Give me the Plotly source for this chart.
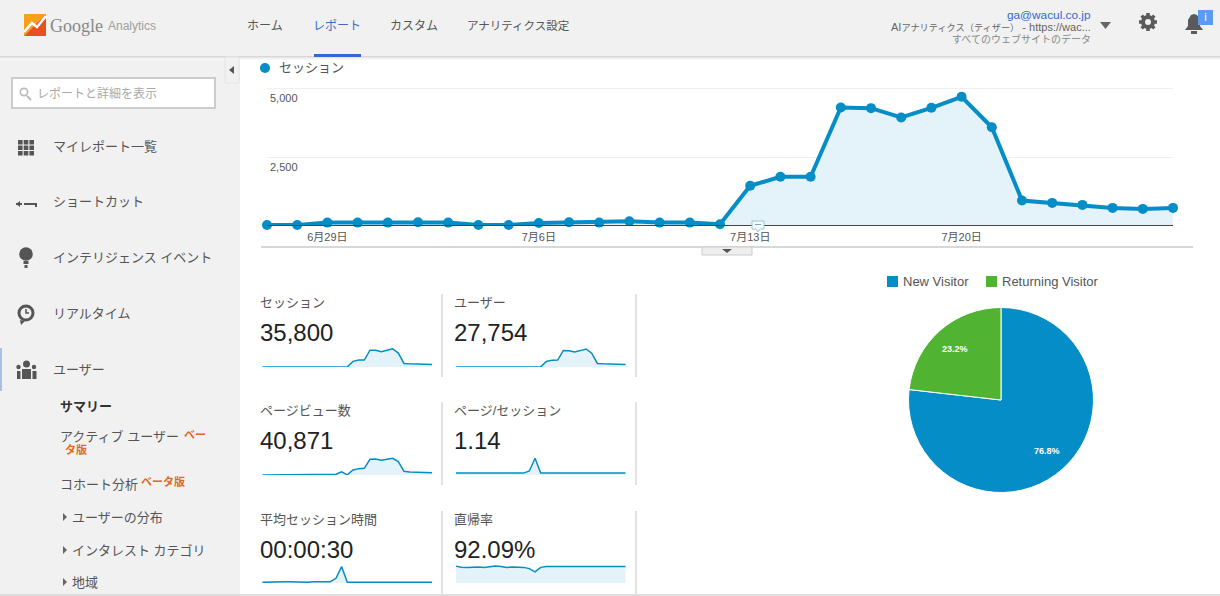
import numpy as np
import plotly.graph_objects as go

W = 1220
H = 596
FONT = "Liberation Sans, Noto Sans CJK JP, sans-serif"
BLUE = "#058dc7"
FILL = "#e4f2f9"
GREEN = "#50b432"

# daily data, 6/27 - 7/27
days = ["6月27日", "6月28日", "6月29日", "6月30日", "7月1日", "7月2日", "7月3日", "7月4日",
        "7月5日", "7月6日", "7月7日", "7月8日", "7月9日", "7月10日", "7月11日", "7月12日",
        "7月13日", "7月14日", "7月15日", "7月16日", "7月17日", "7月18日", "7月19日", "7月20日",
        "7月21日", "7月22日", "7月23日", "7月24日", "7月25日", "7月26日", "7月27日"]
day_ticks = ["6月29日", "7月6日", "7月13日", "7月20日"]

sessions = [12, 12, 98, 98, 98, 110, 98, 12, 12, 86, 110, 98, 147, 98, 98, 40,
            1445, 1776, 1776, 4312, 4288, 3945, 4300, 4704, 3590, 906, 820, 747, 637, 600, 637]
users = [10, 10, 70, 75, 75, 80, 75, 10, 10, 65, 80, 75, 100, 75, 75, 25,
         1130, 1390, 1400, 3350, 3300, 3050, 3320, 3640, 2800, 720, 640, 580, 500, 470, 500]
pageviews = [14, 14, 110, 110, 110, 125, 110, 14, 14, 100, 125, 110, 170, 225, 1000, 45,
             1530, 1940, 2040, 4790, 4900, 4490, 4790, 5100, 4080, 1120, 920, 820, 710, 710, 710]
pages_per = [1.1, 1.1, 1.1, 1.1, 1.1, 1.1, 1.1, 1.1, 1.1, 1.1, 1.1, 1.1, 1.1, 2.3, 9.6, 1.1,
             1.06, 1.09, 1.13, 1.11, 1.14, 1.14, 1.11, 1.08, 1.14, 1.2, 1.12, 1.1, 1.11, 1.15, 1.1]
duration = [20, 30, 30, 30, 40, 40, 30, 20, 20, 40, 50, 40, 40, 140, 490, 20,
            22, 24, 26, 24, 25, 26, 24, 22, 26, 24, 22, 24, 22, 24, 22]
bounce = [94, 88, 87, 90, 89, 87, 90, 95, 92, 87, 89, 90, 87, 80, 62, 87,
          92.2, 92.2, 92.2, 92.2, 92.1, 92.1, 92.2, 92.2, 92.1, 92.1, 92.2, 92.2, 92.1, 92.2, 92.2]

metric_names = ["セッション", "ユーザー", "ページビュー数", "ページ/セッション", "平均セッション時間", "直帰率"]
metric_totals = ["35,800", "27,754", "40,871", "1.14", "00:00:30", "92.09%"]
spark_series = [sessions, users, pageviews, pages_per, duration, bounce]
spark_max = [5400, 4250, 6400, 12, 630, 117]

visitor_labels = ["New Visitor", "Returning Visitor"]
visitor_share = [76.8, 23.2]


def px(x):
    return x / W


def py(y):
    return 1 - y / H


shapes = []
annots = []


def rect(x0, y0, x1, y1, color, line=None, lw=1, layer="below"):
    shapes.append(dict(type="rect", xref="paper", yref="paper", x0=px(x0), x1=px(x1), y0=py(y0), y1=py(y1),
                       fillcolor=color, line=dict(color=line or color, width=lw if line else 0), layer=layer))


def circle(cx, cy, r, color, layer="below"):
    shapes.append(dict(type="circle", xref="paper", yref="paper", x0=px(cx - r), x1=px(cx + r),
                       y0=py(cy - r), y1=py(cy + r), fillcolor=color, line=dict(width=0), layer=layer))


def poly(points, color=None, line=None, lw=1, close=True, layer="below"):
    d = "M " + " L ".join("%.5f %.5f" % (px(a), py(b)) for a, b in points)
    if close:
        d += " Z"
    shapes.append(dict(type="path", xref="paper", yref="paper", path=d,
                       fillcolor=color if color else "rgba(0,0,0,0)",
                       line=dict(color=line or "rgba(0,0,0,0)", width=lw), layer=layer))


def txt(x, y, s, size=13, color="#555555", anchor="left", family=None):
    f = dict(size=size, color=color)
    if family:
        f["family"] = family
    annots.append(dict(xref="paper", yref="paper", x=px(x), y=py(y), text=s, showarrow=False,
                       xanchor=anchor, yanchor="middle", font=f, borderpad=0, borderwidth=0))


# page background
rect(0, 0, 1220, 56, "#f1f1f1")
rect(0, 57, 240, 596, "#f1f1f1")
for i, c in enumerate(["#d8d8d8", "#e6e6e6", "#f1f1f1", "#f8f8f8"]):
    rect(0, 56 + i, 1220, 57 + i, c)
rect(0, 594, 1220, 596, "#dddddd")

# logo
poly([(24, 14), (46, 14), (24, 36)], "#f9a01b")
poly([(46, 14), (46, 36), (24, 36)], "#e8501f")
poly([(24, 32), (32, 23), (37, 27), (46, 16)], None, "#ffffff", 2.5, close=False)
txt(50, 26, "Google", 18, "#888888", family="Liberation Serif")
txt(107.5, 26, "Analytics", 12, "#a0a0a0")

# top nav
txt(265, 26, "ホーム", 12, "#555555", "center")
txt(337, 26, "レポート", 12, "#3a6fc4", "center")
txt(414, 26, "カスタム", 12, "#555555", "center")
txt(518, 26, "アナリティクス設定", 11.5, "#555555", "center")
rect(314, 54, 361, 57, "#3367d6")

# account box
txt(1091, 15, "ga@wacul.co.jp", 11.8, "#3367d6", "right")
txt(1091, 27, "AI<span style='font-size:9.2px'>アナリティクス（ティザー）</span> - https://wac...", 11, "#666666", "right")
txt(1091, 39, "すべてのウェブサイトのデータ", 10, "#888888", "right")
poly([(1100, 22), (1111, 22), (1105.5, 29)], "#666666")

# gear
for a in np.arange(0, np.pi, np.pi / 4):
    dx, dy = 9 * np.cos(a), 9 * np.sin(a)
    poly([(1148 - dx, 22 - dy), (1148 + dx, 22 + dy)], None, "#5a5a5a", 3.5, close=False)
circle(1148, 22, 7, "#5a5a5a")
circle(1148, 22, 3, "#f1f1f1")

# bell + badge
poly([(1185, 30), (1188, 26), (1188, 20), (1191, 15), (1194, 14), (1197, 15), (1200, 20), (1200, 26), (1203, 30)], "#5a5a5a")
rect(1191, 31, 1197, 34, "#5a5a5a")
rect(1198, 10, 1213, 25, "#5b9cf0")
txt(1205.5, 17.5, "i", 11, "#ffffff", "center", "DejaVu Sans")

# sidebar search
rect(12, 78, 215, 108, "#ffffff", "#cccccc", 2)
poly([(27, 96), (31, 100)], None, "#bbbbbb", 2, close=False)
circle(24, 92, 4.5, "#bbbbbb")
circle(24, 92, 2.8, "#ffffff")
txt(37, 93, "レポートと詳細を表示", 12, "#aaaaaa")
rect(225, 57, 239, 83, "#f1f1f1", "#e4e4e4")
poly([(234, 66), (234, 74), (229, 70)], "#555555")

# sidebar icons
ICON = "#555555"
for r in range(3):
    for c in range(3):
        rect(18 + c * 5.7, 140 + r * 5.5, 22.6 + c * 5.7, 144.5 + r * 5.5, ICON)
poly([(16, 204), (22, 204)], None, ICON, 2, close=False)
poly([(16, 204), (20, 201), (20, 207)], ICON)
poly([(24, 204), (36, 204), (36, 207)], None, ICON, 2, close=False)
circle(26, 254, 6.8, ICON)
rect(23.5, 261, 28.5, 264, ICON)
rect(24.5, 265, 27.5, 268, ICON)
circle(26, 313, 8.5, ICON)
circle(26, 313, 5.5, "#f1f1f1")
poly([(26, 309), (26, 313), (29, 313)], None, ICON, 1.5, close=False)
poly([(20, 320), (21, 325), (25, 321)], ICON)
circle(26.5, 364, 3.5, ICON)
circle(18.5, 367, 2.2, ICON)
circle(34, 367, 2.2, ICON)
rect(22, 369, 31, 379, ICON)
rect(17, 371, 20.5, 379, ICON)
rect(32.5, 371, 36.5, 379, ICON)
rect(0, 348, 2, 391, "#a9c1e8")

# sidebar text
txt(53, 146, "マイレポート一覧", 13)
txt(53, 201, "ショートカット", 13)
txt(53, 257, "インテリジェンス イベント", 13)
txt(53, 313, "リアルタイム", 13)
txt(53, 369, "ユーザー", 13)
txt(60, 406, "<b>サマリー</b>", 13, "#333333")
txt(60, 436, "アクティブ ユーザー", 13)
txt(184, 435, "<b>ベー</b>", 11, "#dd6a1f")
txt(65, 450, "<b>タ版</b>", 11, "#dd6a1f")
txt(60, 484, "コホート分析", 13)
txt(141, 482, "<b>ベータ版</b>", 11, "#dd6a1f")
for y, s in [(517, "ユーザーの分布"), (550, "インタレスト カテゴリ"), (582, "地域")]:
    poly([(63, y - 4), (63, y + 4), (67, y)], "#666666")
    txt(72, y, s, 13)

# main chart legend
circle(265, 68, 5, BLUE)
txt(279, 68, "セッション", 13)

# note marker on the axis
poly([(752, 221), (764, 221), (764, 229), (760, 229), (758, 232), (756, 229), (752, 229)], "#f4f9fc", "#9fc4d8", 1, layer="above")
rect(755, 224, 761, 225, "#7fa8c0", layer="above")

# under-chart divider and tab
rect(261, 246, 1193, 248, "#d8d8d8")
rect(702, 247, 752, 255, "#eeeeee", "#cccccc")
poly([(722, 249), (732, 249), (727, 253)], "#555555")

# metric card labels
card_x = [260, 454]
card_rows = [302.5, 410.5, 519.5]
for i, name in enumerate(metric_names):
    x = card_x[i % 2]
    y = card_rows[i // 2]
    txt(x, y, name, 13)
    txt(x, y + 30, metric_totals[i], 24, "#222222")
for top in [294, 402, 511]:
    rect(441.5, top, 442.5, top + 83, "#c8c8c8")
    rect(635.5, top, 636.5, top + 83, "#c8c8c8")

# visitor legend
for x, label, color in zip([887, 986], visitor_labels, [BLUE, GREEN]):
    rect(x, 276, x + 11, 287, color)
    txt(x + 16, 281.5, label, 13)

fig = go.Figure()

# main session line
fig.add_trace(go.Scatter(x=days, y=sessions, mode="lines+markers", fill="tozeroy", fillcolor=FILL,
                         line=dict(color=BLUE, width=4), marker=dict(color=BLUE, size=10),
                         cliponaxis=False, showlegend=False, xaxis="x", yaxis="y"))

layout = dict(
    xaxis=dict(domain=[px(267), px(1173)], type="category", categoryorder="array", categoryarray=days,
               range=[0, 30], tickvals=day_ticks, ticktext=day_ticks, tickfont=dict(size=11, color="#555555"),
               ticklabelstandoff=1,
               showgrid=False, zeroline=False, showline=True, linecolor="#444444", linewidth=1, ticks=""),
    # range goes a bit past 5000, plotly drops a gridline sitting on the very end of the axis
    yaxis=dict(domain=[py(225.3), py(87.33)], range=[0, 5050], tickvals=[2500, 5000], ticktext=["2,500", "5,000"],
               ticklabelposition="inside bottom", ticklabelshift=2, tickfont=dict(size=11, color="#555555"),
               showgrid=True, gridcolor="#efefef", gridwidth=1, zeroline=False, showline=False, ticks=""),
)

# sparklines
spark_left = [262.3, 455.7]
spark_base = [367, 475, 583]
for i, series in enumerate(spark_series):
    n = i + 2
    x0 = spark_left[i % 2]
    base = spark_base[i // 2]
    fig.add_trace(go.Scatter(x=days, y=series, mode="lines", fill="tozeroy", fillcolor=FILL,
                             line=dict(color=BLUE, width=1.5), showlegend=False, cliponaxis=False,
                             hoverinfo="skip", xaxis="x%d" % n, yaxis="y%d" % n))
    layout["xaxis%d" % n] = dict(domain=[px(x0), px(x0 + 170)], anchor="y%d" % n, type="category",
                                 categoryorder="array", categoryarray=days, range=[0, 30], visible=False)
    layout["yaxis%d" % n] = dict(domain=[py(base), py(base - 21)], anchor="x%d" % n,
                                 range=[0, spark_max[i]], visible=False)

# pie, labels sit on the mid angle of each slice
fig.add_trace(go.Pie(labels=visitor_labels, values=visitor_share, sort=False, direction="clockwise", rotation=0,
                     marker=dict(colors=[BLUE, GREEN], line=dict(color="#ffffff", width=1)),
                     textinfo="none", showlegend=False,
                     domain=dict(x=[px(908.5), px(1093.5)], y=[py(492.5), py(307.5)]), hoverinfo="label+percent"))
start = 0
for share in visitor_share:
    mid = (start + share / 2) / sum(visitor_share) * 2 * np.pi
    txt(1001 + 69 * np.sin(mid), 400 - 69 * np.cos(mid), "<b>%.1f%%</b>" % share, 9, "#ffffff", "center")
    start += share

fig.update_layout(
    width=W, height=H, margin=dict(l=0, r=0, t=0, b=0, pad=0),
    paper_bgcolor="#ffffff", plot_bgcolor="rgba(0,0,0,0)",
    font=dict(family=FONT, size=13, color="#555555"),
    shapes=shapes, annotations=annots, showlegend=False,
    **layout
)

fig.write_html("out.html", config=dict(displayModeBar=False), post_script="document.body.style.margin='0';")
